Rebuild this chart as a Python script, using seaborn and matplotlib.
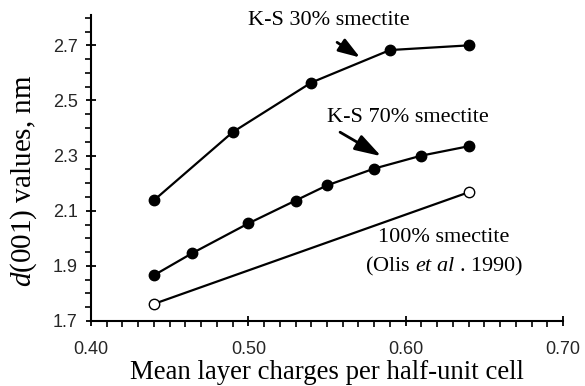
import matplotlib
matplotlib.use("Agg")
import matplotlib.pyplot as plt
import seaborn as sns
import pandas as pd
from matplotlib.ticker import MultipleLocator, FormatStrFormatter

# K-S mixed-layer series (filled circles)
ks30_charge = [0.44, 0.49, 0.54, 0.59, 0.64]
ks30_d001 = [2.138, 2.385, 2.565, 2.683, 2.700]

ks70_charge = [0.44, 0.464, 0.50, 0.53, 0.55, 0.58, 0.61, 0.64]
ks70_d001 = [1.866, 1.945, 2.054, 2.137, 2.192, 2.253, 2.300, 2.334]

# pure smectite reference (open circles)
sm100_charge = [0.44, 0.64]
sm100_d001 = [1.762, 2.167]

x_ticks = [0.40, 0.50, 0.60, 0.70]
y_ticks = [1.7, 1.9, 2.1, 2.3, 2.5, 2.7]

sns.set_theme(style="ticks")
plt.rcParams["font.family"] = ["Liberation Serif", "DejaVu Serif"]
plt.rcParams["mathtext.fontset"] = "custom"
plt.rcParams["mathtext.rm"] = "Liberation Serif"
plt.rcParams["mathtext.it"] = "Liberation Serif:italic"

df30 = pd.DataFrame({"charge": ks30_charge, "d001": ks30_d001})
df70 = pd.DataFrame({"charge": ks70_charge, "d001": ks70_d001})
df100 = pd.DataFrame({"charge": sm100_charge, "d001": sm100_d001})

fig = plt.figure(figsize=(5.85, 3.86), dpi=100)
ax = fig.add_axes([0.1556, 0.1684, 0.8068, 0.7926])

line_kw = dict(color="black", linewidth=1.6, markersize=7.5, markeredgewidth=1.0,
               markeredgecolor="black")
sns.lineplot(data=df30, x="charge", y="d001", ax=ax, marker="o",
             markerfacecolor="black", **line_kw)
sns.lineplot(data=df70, x="charge", y="d001", ax=ax, marker="o",
             markerfacecolor="black", **line_kw)
sns.lineplot(data=df100, x="charge", y="d001", ax=ax, marker="o",
             markerfacecolor="white", **line_kw)

ax.set_xlim(0.40, 0.70)
ax.set_ylim(1.7, 2.81)
ax.set_xticks(x_ticks)
ax.set_yticks(y_ticks)
ax.xaxis.set_major_formatter(FormatStrFormatter("%.2f"))
ax.yaxis.set_major_formatter(FormatStrFormatter("%.1f"))
ax.xaxis.set_minor_locator(MultipleLocator(0.01))
ax.yaxis.set_minor_locator(MultipleLocator(0.05))

for side in ("top", "right"):
    ax.spines[side].set_visible(False)
for side in ("left", "bottom"):
    ax.spines[side].set_linewidth(1.5)
    ax.spines[side].set_color("black")

ax.tick_params(axis="both", which="major", direction="inout", length=7,
               width=1.3, color="black", labelsize=13,
               labelfontfamily="Liberation Sans")
ax.tick_params(axis="both", which="minor", direction="out", length=4,
               width=1.2, color="black")
ax.tick_params(axis="x", which="major", pad=11)
ax.tick_params(axis="y", which="major", pad=6)

ax.set_xlabel("Mean layer charges per half-unit cell", fontsize=19.3,
              labelpad=1, color="black")
ax.set_ylabel(r"$d$(001) values, nm", fontsize=21, color="black")
ax.yaxis.set_label_coords(-0.11, 0.46)

ax.set_facecolor("white")
fig.patch.set_facecolor("white")

txt_kw = dict(fontsize=16, color="black", ha="center", va="center")
ax.annotate("", xy=(0.5710, 2.656), xytext=(0.5564, 2.711),
            arrowprops=dict(arrowstyle="-|>,head_length=0.65,head_width=0.22",
                            mutation_scale=20, color="black", lw=2,
                            shrinkA=0, shrinkB=0))
ax.text(0.5513, 2.790, "K-S 30% smectite", **txt_kw)

ax.annotate("", xy=(0.5844, 2.298), xytext=(0.5583, 2.385),
            arrowprops=dict(arrowstyle="-|>,head_length=0.8,head_width=0.25",
                            mutation_scale=20, color="black", lw=2,
                            shrinkA=0, shrinkB=0))
ax.text(0.6015, 2.439, "K-S 70% smectite", **txt_kw)

ax.text(0.6244, 2.004, "100% smectite", **txt_kw)
ax.text(0.6244, 1.896, r"(Olis $et\ al$ . 1990)", **txt_kw)

fig.savefig("out.png", dpi=100, facecolor="white")
